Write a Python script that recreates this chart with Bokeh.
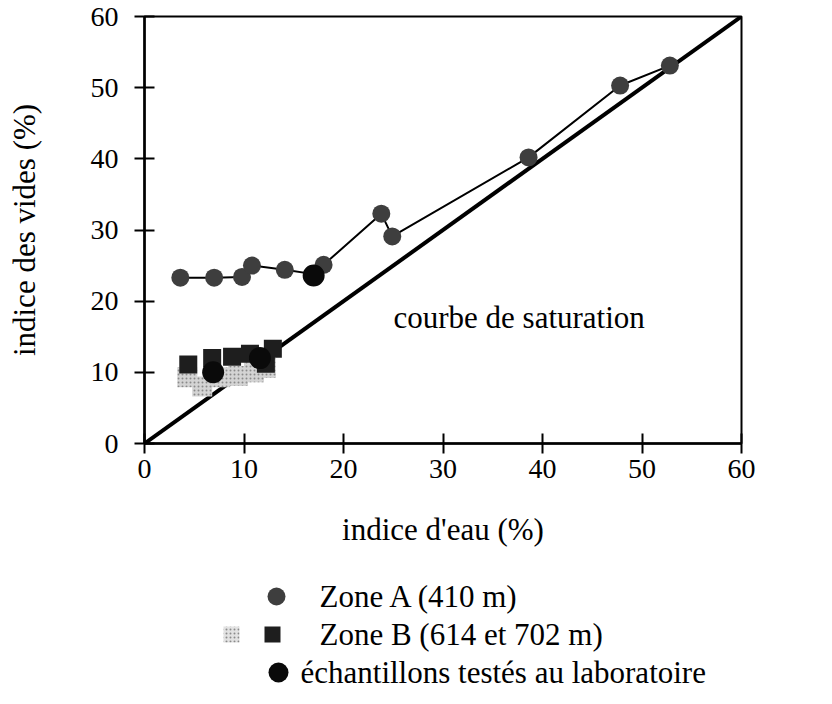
from bokeh.plotting import figure
from bokeh.models import Range1d, FixedTicker, Label
from bokeh.layouts import column
from bokeh.core.properties import value
from bokeh.embed import file_html
from bokeh.resources import INLINE

FONT = "Liberation Serif"

# ---- data ----
zoneA_x = [3.6, 7.0, 9.8, 10.8, 14.1, 17.0, 18.0, 23.8, 24.9, 38.6, 47.8, 52.8]
zoneA_y = [23.3, 23.3, 23.4, 25.0, 24.4, 23.8, 25.1, 32.3, 29.1, 40.2, 50.3, 53.1]

zoneB_light_x = [4.3, 5.8, 7.6, 9.4, 11.0, 12.2]
zoneB_light_y = [9.3, 8.0, 9.3, 9.5, 10.0, 10.6]
zoneB_dark_x = [4.4, 6.8, 8.8, 10.6, 12.2, 12.9]
zoneB_dark_y = [11.1, 12.0, 12.2, 12.6, 11.2, 13.3]

lab_x = [6.9, 11.6, 17.0]
lab_y = [10.0, 12.0, 23.6]

sat_x = [0, 60]
sat_y = [0, 60]

ticks = [0, 10, 20, 30, 40, 50, 60]
x_label = "indice d'eau (%)"
y_label = "indice des vides (%)"
sat_label = "courbe de saturation"
legend_labels = ["Zone A (410 m)", "Zone B (614 et 702 m)", "échantillons testés au laboratoire"]

# ---- layout constants (page pixels) ----
W = 832
FL, FR, FT, FB = 144, 741, 16, 443   # frame edges on the page
PH = 563                              # height of the chart figure
LH = 137                              # height of the legend strip

def px_to_x(px):
    return (px - FL) / (FR - FL) * 60.0

def py_to_y(py):
    return (FB - py) / (FB - FT) * 60.0

p = figure(width=W, height=PH, output_backend="svg", toolbar_location=None,
           x_range=Range1d(0, 60), y_range=Range1d(0, 60),
           min_border_left=FL, min_border_right=W - FR,
           min_border_top=FT, min_border_bottom=PH - FB)
p.grid.visible = False
p.outline_line_color = "black"
p.outline_line_width = 2
p.background_fill_color = "white"
p.border_fill_color = "white"

for ax in (p.xaxis[0], p.yaxis[0]):
    ax.ticker = FixedTicker(ticks=ticks)
    ax.minor_tick_line_color = None
    ax.major_tick_in = 10
    ax.major_tick_out = 10
    ax.major_tick_line_width = 2
    ax.axis_line_width = 2.5
    ax.axis_line_color = "black"
    ax.major_tick_line_color = "black"
    ax.major_label_text_font = FONT
    ax.major_label_text_font_size = "28px"
    ax.major_label_text_color = "black"
    ax.axis_label_text_font = FONT
    ax.axis_label_text_font_size = "31px"
    ax.axis_label_text_font_style = "normal"
    ax.axis_label_text_color = "black"

p.xaxis.axis_label = x_label
p.yaxis.axis_label = y_label
p.xaxis.major_label_standoff = 6
p.yaxis.major_label_standoff = 16
p.xaxis.axis_label_standoff = 31
p.yaxis.axis_label_standoff = 46

# saturation line
p.line(sat_x, sat_y, line_color="black", line_width=4)

# zone B squares
p.scatter(zoneB_light_x, zoneB_light_y, marker="square", size=20,
          fill_color="#d4d4d4", line_color=None,
          hatch_pattern="dot", hatch_color="#8a8a8a", hatch_scale=4)
p.scatter(zoneB_dark_x, zoneB_dark_y, marker="square", size=18,
          fill_color="#1e1e1e", line_color=None)

# zone A line + circles
p.line(zoneA_x, zoneA_y, line_color="black", line_width=2)
p.scatter(zoneA_x, zoneA_y, marker="circle", size=18,
          fill_color="#3e3e3e", line_color=None)

# lab samples
p.scatter(lab_x, lab_y, marker="circle", size=22, fill_color="#0a0a0a", line_color=None)

p.add_layout(Label(x=px_to_x(393), y=py_to_y(317), text=sat_label, text_font=FONT,
                   text_font_size="31px", text_color="black",
                   text_baseline="alphabetic", text_align="left"))

# ---- legend strip (its frame is aligned with the chart frame; units = page px) ----
q = figure(width=W, height=LH, output_backend="svg", toolbar_location=None,
           x_range=Range1d(FL, FR), y_range=Range1d(PH + LH, PH), min_border=0)
q.axis.visible = False
q.grid.visible = False
q.outline_line_color = None
q.border_fill_color = "white"
q.background_fill_color = "white"

rows_py = [596, 634, 672]
q.scatter([276], [rows_py[0]], marker="circle", size=18, fill_color="#3e3e3e", line_color=None)
q.scatter([231], [rows_py[1]], marker="square", size=16, fill_color="#e2e2e2", line_color=None,
          hatch_pattern="dot", hatch_color="#8a8a8a", hatch_scale=4)
q.scatter([272], [rows_py[1]], marker="square", size=16, fill_color="#1e1e1e", line_color=None)
q.scatter([278], [rows_py[2]], marker="circle", size=20, fill_color="#0a0a0a", line_color=None)
q.text(x=[319, 319, 300], y=rows_py, text=legend_labels,
       text_font=value(FONT), text_font_size="31px", text_color="black",
       text_baseline="middle", text_align="left")

layout = column(p, q, spacing=0)
open("out.html", "w").write(file_html(layout, INLINE))
